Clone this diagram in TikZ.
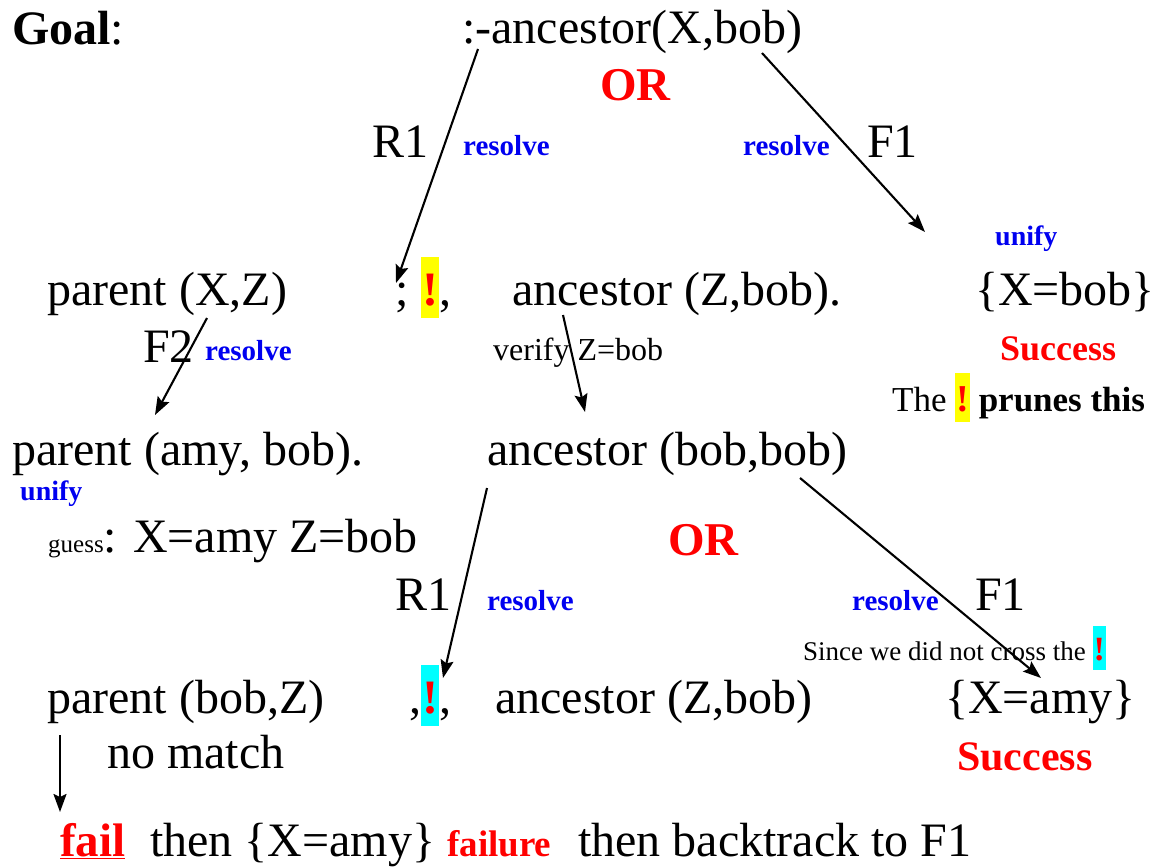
\documentclass[tikz,border=0pt]{standalone}
\usepackage{fontspec}
\setmainfont{Liberation Serif}
\usepackage{tikz}
\usetikzlibrary{arrows.meta, positioning}
\usepackage{xcolor}
\definecolor{cutred}{RGB}{255,0,0}
\definecolor{stepblue}{RGB}{0,0,240}
\definecolor{cutyellow}{RGB}{255,255,0}
\definecolor{cutcyan}{RGB}{0,255,255}
\tikzstyle{term}=[anchor=base west, inner sep=0pt, font=\fontsize{48}{60}\selectfont]
\tikzstyle{howto}=[anchor=base west, inner sep=0pt, text=stepblue,
  font=\fontsize{29}{34}\selectfont\bfseries]
\tikzstyle{verdict}=[anchor=base west, inner sep=0pt, text=cutred, font=\bfseries]
\tikzstyle{remark}=[anchor=base west, inner sep=0pt, font=\fontsize{32}{38}\selectfont]
\tikzstyle{arrow}=[-{Stealth[length=18pt,width=13pt,inset=3pt]}, line width=2.1pt]
\newcommand{\cutmark}[1]{{\setlength{\fboxsep}{1pt}%
  \colorbox{#1}{\rule[-0.25em]{0pt}{1.22em}\textcolor{cutred}{\textbf{!}}}}}

\begin{document}
\begin{tikzpicture}[x=1pt, y=-1pt]
  \useasboundingbox (0,0) rectangle (1164,867);
  % top goal
  \node[term] (goaltag) at (12,45) {\textbf{Goal}:};
  \node[term] (goal) at (462,44) {:-ancestor(X,bob)};
  \node[verdict, font=\fontsize{47}{56}\selectfont\bfseries] (or1) at (600,100) {OR};
  \node[term] (r1a) at (372,157) {R1};
  \node[howto] (res1) at (463,155) {resolve};
  \node[howto] (res2) at (743,155) {resolve};
  \node[term] (f1a) at (867,157) {F1};
  \node[howto, font=\fontsize{28}{34}\selectfont\bfseries] (uni1) at (995,245) {unify};
  % first resolvent
  \node[term] (par1) at (47,305) {parent (X,Z)};
  \node[term] (semi) at (395,305) {;};
  \node[term] (cut1) at (421,305) {\cutmark{cutyellow},};
  \node[term] (anc1) at (512,305) {ancestor (Z,bob).};
  \node[term] (sol1) at (975,305) {\{X=bob\}};
  \node[term] (f2) at (143,362) {F2};
  \node[howto] (res3) at (205,360) {resolve};
  \node[remark] (verify) at (493,360) {verify Z=bob};
  \node[verdict, font=\fontsize{36}{43}\selectfont\bfseries] (succ1) at (1000,360) {Success};
  \node[anchor=base west, inner sep=0pt, font=\fontsize{35}{42}\selectfont]
    (prune) at (892,411) {The {\fontsize{38}{44}\selectfont\cutmark{cutyellow}} \textbf{prunes this}};
  % second level
  \node[term] (par2) at (12,465) {parent (amy, bob).};
  \node[term] (anc2) at (487,465) {ancestor (bob,bob)};
  \node[howto, font=\fontsize{28}{34}\selectfont\bfseries] (uni2) at (20,500) {unify};
  \node[term] (guess) at (48,552) {{\fontsize{25}{30}\selectfont guess}: X=amy Z=bob};
  \node[verdict, font=\fontsize{47}{56}\selectfont\bfseries] (or2) at (668,555) {OR};
  \node[term] (r1b) at (395,610) {R1};
  \node[howto] (res4) at (487,610) {resolve};
  \node[howto] (res5) at (852,610) {resolve};
  \node[term] (f1b) at (975,610) {F1};
  \node[anchor=base west, inner sep=0pt, font=\fontsize{27}{34}\selectfont]
    (since) at (803,660) {Since we did not cross the {\fontsize{34}{40}\selectfont\cutmark{cutcyan}}};
  % third level
  \node[term] (par3) at (47,713) {parent (bob,Z)};
  \node[term] (cut2) at (409,713) {,\cutmark{cutcyan},};
  \node[term] (anc3) at (495,713) {ancestor (Z,bob)};
  \node[term] (sol2) at (945,713) {\{X=amy\}};
  \node[term] (nomatch) at (107,768) {no match};
  \node[verdict, font=\fontsize{42}{50}\selectfont\bfseries] (succ2) at (957,770) {Success};
  % bottom line
  \node[verdict, font=\fontsize{47}{56}\selectfont\bfseries] (fail) at (60,856) {\underline{fail}};
  \node[term] (then1) at (150,856) {then \{X=amy\}};
  \node[verdict, font=\fontsize{37}{44}\selectfont\bfseries] (failure) at (447,856) {failure};
  \node[term] (then2) at (578,856) {then backtrack to F1};
  % arrow ends
  \coordinate (e1) at (396,283);
  \coordinate (e2) at (925,232);
  \coordinate (e3) at (155,415);
  \coordinate (e4) at (585,412);
  \coordinate (e5) at (443,678);
  \coordinate (e6) at (1041,678);
  \coordinate (e7) at (60,812);
  \draw[arrow] ([shift={(16,5)}]goal.base west) -- (e1);
  \draw[arrow] ([shift={(300,9)}]goal.base west) -- (e2);
  \draw[arrow] ([shift={(160,13)}]par1.base west) -- (e3);
  \draw[arrow] ([shift={(51,10)}]anc1.base west) -- (e4);
  \draw[arrow] ([shift={(0,23)}]anc2.base west) -- (e5);
  \draw[arrow] ([shift={(313,13)}]anc2.base west) -- (e6);
  \draw[arrow] ([shift={(13,22)}]par3.base west) -- (e7);
\end{tikzpicture}
\end{document}
